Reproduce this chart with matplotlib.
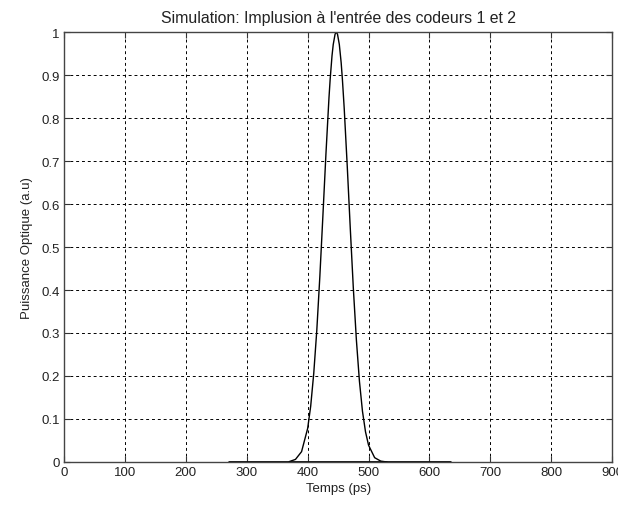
import numpy as np
import matplotlib.pyplot as plt

# pulse (time in ps, normalised optical power)
temps = [370, 380, 390, 400, 405, 410, 415, 420, 425, 430, 435, 437, 440, 442, 445, 447,
         449, 452, 455, 457, 460, 465, 470, 475, 480, 485, 490, 495, 500, 510, 520, 530]
puissance = [0.001, 0.006, 0.024, 0.078, 0.13, 0.206, 0.306, 0.431, 0.572, 0.716,
             0.847, 0.891, 0.945, 0.971, 0.995, 1.0, 0.995, 0.971, 0.929, 0.891, 0.823,
             0.688, 0.543, 0.404, 0.284, 0.188, 0.118, 0.07, 0.039, 0.01, 0.002, 0.0]

# flat zero segment drawn under the pulse
fond_t = [270, 635]
fond_p = [0, 0]

x_ticks = list(range(0, 901, 100))
y_ticks = [0, 0.1, 0.2, 0.3, 0.4, 0.5, 0.6, 0.7, 0.8, 0.9, 1]
y_labels = ["0", "0.1", "0.2", "0.3", "0.4", "0.5", "0.6", "0.7", "0.8", "0.9", "1"]

plt.rcParams['font.family'] = ['Liberation Sans', 'DejaVu Sans']
plt.rcParams['font.size'] = 9.5

fig = plt.figure(figsize=(6.18, 5.10), dpi=100)
ax = fig.add_axes([0.1036, 0.0922, 0.887, 0.843])

ax.plot(fond_t, fond_p, color='black', lw=2.0, solid_capstyle='butt')
ax.plot(temps, puissance, color='black', lw=1.0)

ax.set_xlim(0, 900)
ax.set_ylim(0, 1)
ax.set_xticks(x_ticks)
ax.set_yticks(y_ticks)
ax.set_yticklabels(y_labels)
ax.grid(True, color='black', linestyle=(0, (3, 3)), lw=0.7)
ax.tick_params(direction='in', length=4, top=True, right=True, color='#333333', pad=3,
               labelcolor='#222222')
for s in ax.spines.values():
    s.set_color('#444444')
    s.set_linewidth(1.0)

ax.set_title("Simulation: Implusion à l'entrée des codeurs 1 et 2", pad=7, color='#222222')
ax.set_xlabel("Temps (ps)", labelpad=3, color='#222222')
ax.set_ylabel("Puissance Optique (a.u)", labelpad=6, color='#222222')

fig.savefig("out.png", dpi=100)
